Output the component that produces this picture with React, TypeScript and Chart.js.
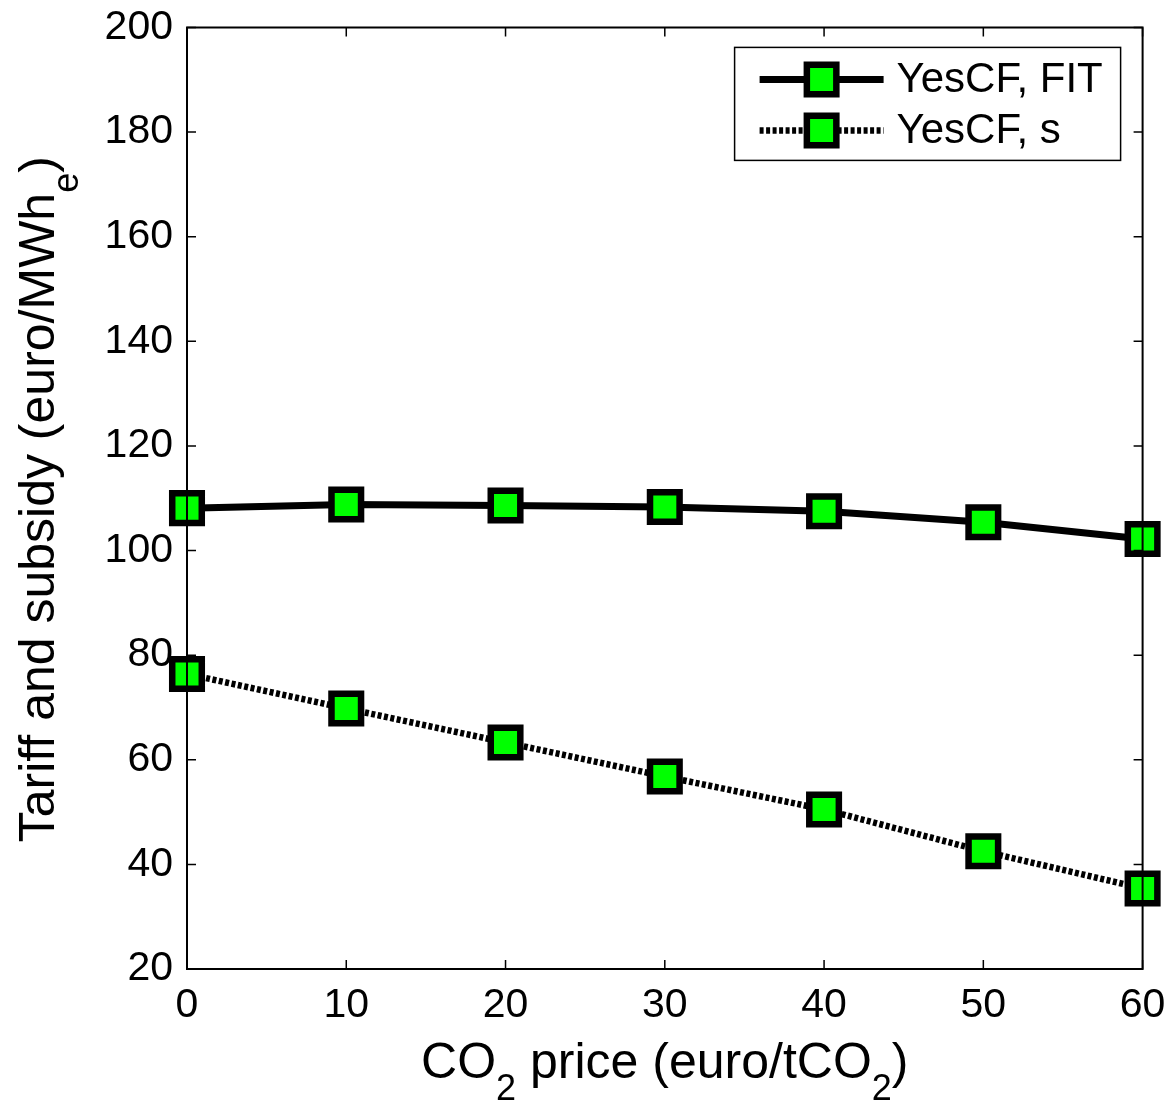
import React, { useEffect, useRef } from "react";
import { Chart, registerables } from "chart.js";

Chart.register(...registerables);

const co2Prices = [0, 10, 20, 30, 40, 50, 60];
const fitValues = [108.1, 108.8, 108.6, 108.3, 107.5, 105.4, 102.2];
const subsidyValues = [76.4, 69.8, 63.3, 56.8, 50.5, 42.5, 35.4];
const seriesLabels = ["YesCF, FIT", "YesCF, s"];
const xTicks = [0, 10, 20, 30, 40, 50, 60];
const yTicks = [20, 40, 60, 80, 100, 120, 140, 160, 180, 200];

const FONT = "'Liberation Sans', Arial, Helvetica, sans-serif";
const GREEN = "#00ff00";

type Part = { t: string; sub?: boolean };

function drawRich(ctx: CanvasRenderingContext2D, parts: Part[], cx: number, y: number, main: number, sub: number, subOff: number) {
  const widths = parts.map((p) => {
    ctx.font = `${p.sub ? sub : main}px ${FONT}`;
    return ctx.measureText(p.t).width;
  });
  const total = widths.reduce((a, b) => a + b, 0);
  let x = cx - total / 2;
  ctx.textAlign = "left";
  ctx.textBaseline = "alphabetic";
  parts.forEach((p, i) => {
    ctx.font = `${p.sub ? sub : main}px ${FONT}`;
    ctx.fillText(p.t, x, p.sub ? y + subOff : y);
    x += widths[i];
  });
}

function drawMarker(ctx: CanvasRenderingContext2D, x: number, y: number) {
  const side = 29.5;
  ctx.save();
  ctx.fillStyle = GREEN;
  ctx.strokeStyle = "#000";
  ctx.lineWidth = 6.5;
  ctx.beginPath();
  ctx.rect(x - side / 2, y - side / 2, side, side);
  ctx.fill();
  ctx.stroke();
  ctx.restore();
}

const framePlugin = {
  id: "frame",
  afterDatasetsDraw(chart: any) {
    const ctx: CanvasRenderingContext2D = chart.ctx;
    const { left, right, top, bottom } = chart.chartArea;
    const xs = chart.scales.x;
    const ys = chart.scales.y;
    ctx.save();
    ctx.strokeStyle = "#000";
    ctx.lineWidth = 2;
    ctx.beginPath();
    ctx.rect(left, top, right - left, bottom - top);
    ctx.stroke();
    const tl = 9;
    ctx.lineWidth = 1.5;
    ctx.beginPath();
    xTicks.forEach((v) => {
      const px = xs.getPixelForValue(v);
      ctx.moveTo(px, bottom);
      ctx.lineTo(px, bottom - tl);
      ctx.moveTo(px, top);
      ctx.lineTo(px, top + tl);
    });
    yTicks.forEach((v) => {
      const py = ys.getPixelForValue(v);
      ctx.moveTo(left, py);
      ctx.lineTo(left + tl, py);
      ctx.moveTo(right, py);
      ctx.lineTo(right - tl, py);
    });
    ctx.stroke();
    ctx.restore();
  },
  afterDraw(chart: any) {
    const ctx: CanvasRenderingContext2D = chart.ctx;
    const { left, right, top, bottom } = chart.chartArea;
    ctx.save();
    ctx.fillStyle = "#000";
    // x title
    drawRich(
      ctx,
      [{ t: "CO" }, { t: "2", sub: true }, { t: " price (euro/tCO" }, { t: "2", sub: true }, { t: ")" }],
      (left + right) / 2,
      1078,
      50,
      36,
      22
    );
    // y title
    ctx.save();
    ctx.translate(54, (top + bottom) / 2 + 1);
    ctx.rotate(-Math.PI / 2);
    drawRich(ctx, [{ t: "Tariff and subsidy (euro/MWh" }, { t: "e", sub: true }, { t: ")" }], 0, 0, 50, 36, 24);
    ctx.restore();

    // legend
    const bx = right - 408;
    const by = top + 20;
    const bw = 386;
    const bh = 113;
    ctx.fillStyle = "#fff";
    ctx.fillRect(bx, by, bw, bh);
    ctx.strokeStyle = "#000";
    ctx.lineWidth = 1.5;
    ctx.strokeRect(bx, by, bw, bh);
    const rows = [by + 32, by + 83];
    rows.forEach((ry, i) => {
      ctx.save();
      ctx.strokeStyle = "#000";
      ctx.lineWidth = i === 0 ? 7 : 6.5;
      ctx.setLineDash(i === 0 ? [] : [4, 2.5]);
      ctx.beginPath();
      ctx.moveTo(bx + 25, ry);
      ctx.lineTo(bx + 149, ry);
      ctx.stroke();
      ctx.restore();
      drawMarker(ctx, bx + 87, ry);
      ctx.fillStyle = "#000";
      ctx.font = `42px ${FONT}`;
      ctx.textAlign = "left";
      ctx.textBaseline = "middle";
      ctx.fillText(seriesLabels[i], bx + 162, ry + 1);
    });
    ctx.restore();
  },
};

export default function App() {
  const canvasRef = useRef<HTMLCanvasElement | null>(null);

  useEffect(() => {
    if (!canvasRef.current) return;
    const pointStyle = {
      pointStyle: "rect" as const,
      pointRadius: 20.9,
      pointHoverRadius: 20.9,
      pointBackgroundColor: GREEN,
      pointBorderColor: "#000",
      pointBorderWidth: 6.5,
    };
    const chart = new Chart(canvasRef.current, {
      type: "line",
      data: {
        datasets: [
          {
            label: seriesLabels[0],
            data: co2Prices.map((x, i) => ({ x, y: fitValues[i] })),
            borderColor: "#000",
            borderWidth: 7,
            clip: false as any,
            ...pointStyle,
          },
          {
            label: seriesLabels[1],
            data: co2Prices.map((x, i) => ({ x, y: subsidyValues[i] })),
            borderColor: "#000",
            borderWidth: 6.5,
            borderDash: [4, 2.5],
            clip: false as any,
            ...pointStyle,
          },
        ],
      },
      options: {
        responsive: false,
        animation: false,
        devicePixelRatio: 1,
        layout: { padding: { left: 0, top: 25, right: 27, bottom: 0 } },
        plugins: { legend: { display: false }, tooltip: { enabled: false } },
        scales: {
          x: {
            type: "linear",
            min: 0,
            max: 60,
            afterBuildTicks: (s: any) => {
              s.ticks = xTicks.map((v) => ({ value: v }));
            },
            afterFit: (s: any) => {
              s.height = 133;
              s.paddingLeft = 0;
              s.paddingRight = 0;
              s.paddingTop = 0;
              s.paddingBottom = 0;
            },
            grid: { display: false, drawTicks: false },
            border: { display: false },
            ticks: { color: "#000", font: { family: FONT, size: 41 }, padding: 12, maxRotation: 0 },
          },
          y: {
            type: "linear",
            min: 20,
            max: 200,
            afterBuildTicks: (s: any) => {
              s.ticks = yTicks.map((v) => ({ value: v }));
            },
            afterFit: (s: any) => {
              s.width = 187;
              s.paddingLeft = 0;
              s.paddingRight = 0;
              s.paddingTop = 0;
              s.paddingBottom = 0;
            },
            grid: { display: false, drawTicks: false },
            border: { display: false },
            ticks: { color: "#000", font: { family: FONT, size: 41 }, padding: 14 },
          },
        },
      },
      plugins: [framePlugin],
    });
    return () => chart.destroy();
  }, []);

  return (
    <div style={{ position: "absolute", left: 0, top: 0, width: 1170, height: 1102, background: "#fff" }}>
      <canvas ref={canvasRef} width={1170} height={1102} />
    </div>
  );
}
